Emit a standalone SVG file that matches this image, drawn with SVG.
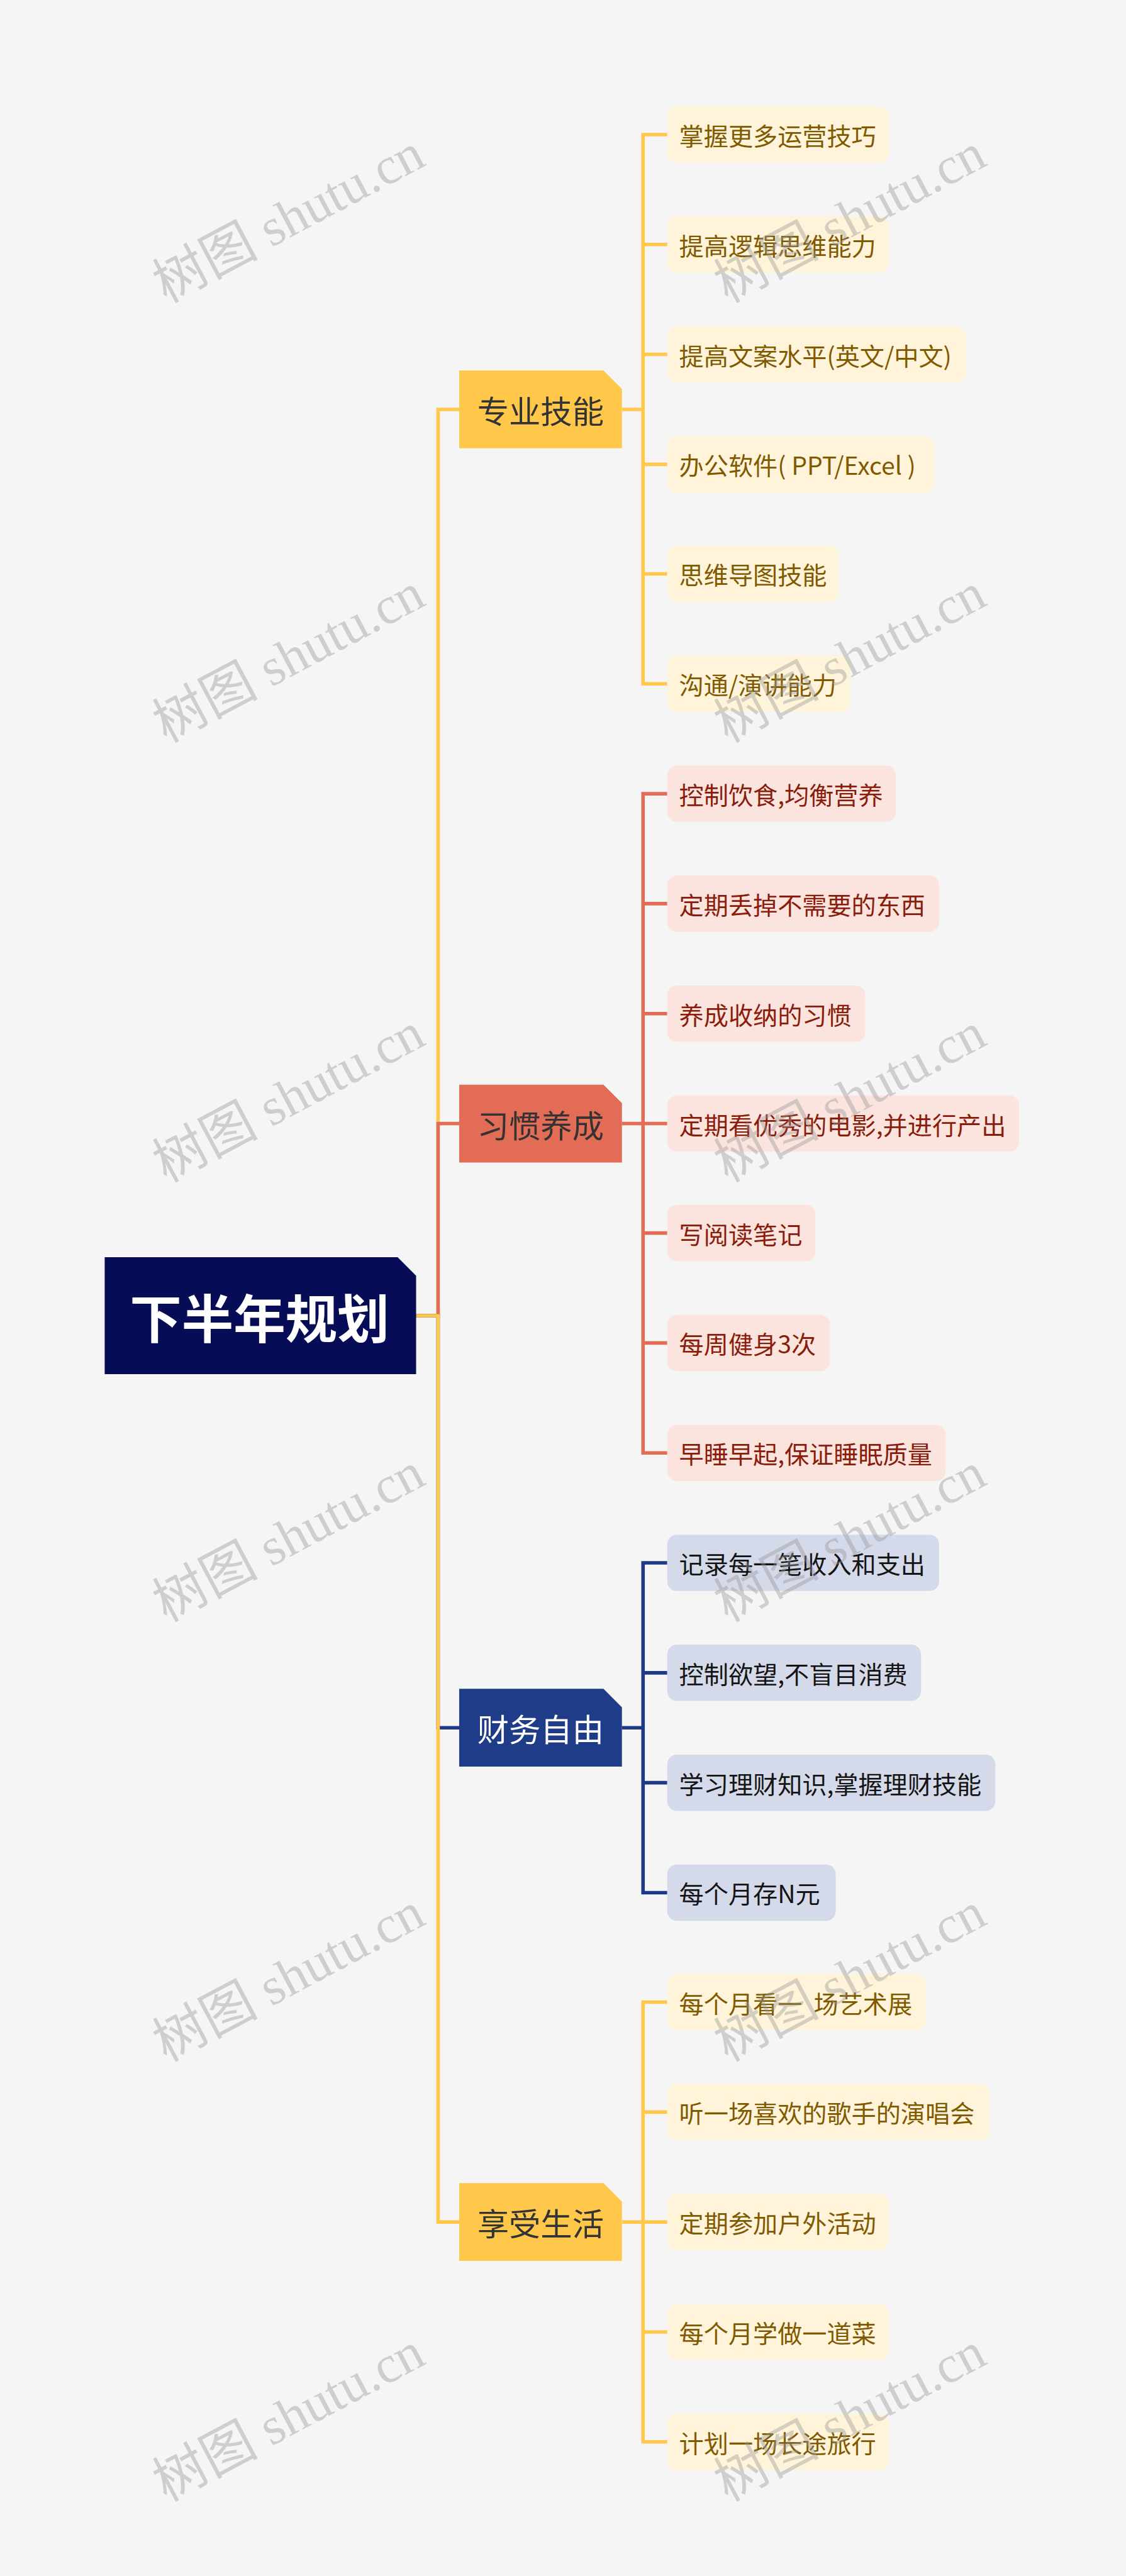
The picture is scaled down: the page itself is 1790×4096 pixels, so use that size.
<svg xmlns="http://www.w3.org/2000/svg" width="1790" height="4096" viewBox="0 0 1790 4096">
<style>
.ct{font-family:"Noto Sans CJK SC","Noto Sans",sans-serif;font-size:56px;dominant-baseline:central}
.tt{font-family:"Noto Sans CJK SC","Noto Sans",sans-serif;font-size:72px;dominant-baseline:central;text-anchor:middle}
.y .box{fill:#FFF4DA}.y text{fill:#805A00}
.r .box{fill:#FCE4DE}.r text{fill:#8A1C0C}
.b .box{fill:#D4DAEA}.b text{fill:#141414}
.ln{fill:none;stroke-width:8;stroke-linejoin:miter}
.wm{font-family:"Liberation Serif","Noto Sans CJK SC",serif;font-size:120px;fill:#969696;opacity:0.4}
</style>
<rect width="1790" height="4096" fill="#F5F5F5"/>
<g transform="scale(0.69922)">
<g id="connectors">
<path class="ln" stroke="#FFC84A" d="M946,2992H996V931H1044"/>
<path class="ln" stroke="#E26C55" d="M946,2992H996V2555H1044"/>
<path class="ln" stroke="#1E3A87" d="M946,2992H996V3929H1044"/>
<path class="ln" stroke="#FFC84A" d="M946,2992H996V5053H1044"/>
<path class="ln" stroke="#FFC84A" d="M1414,931H1462M1517,306H1462V1555H1517M1462,556H1517M1462,806H1517M1462,1056H1517M1462,1305H1517"/>
<path class="ln" stroke="#E26C55" d="M1414,2555H1462M1517,1805H1462V3304H1517M1462,2055H1517M1462,2305H1517M1462,2555H1517M1462,2804H1517M1462,3054H1517"/>
<path class="ln" stroke="#1E3A87" d="M1414,3929H1462M1517,3554H1462V4304H1517M1462,3804H1517M1462,4054H1517"/>
<path class="ln" stroke="#FFC84A" d="M1414,5053H1462M1517,4553H1462V5553H1517M1462,4803H1517M1462,5053H1517M1462,5303H1517"/>
</g>
<g id="root">
<path d="M238,2859H904L946,2901V3125H238Z" fill="#070C56"/>
<text x="590" y="2992" font-family="Noto Sans CJK SC, sans-serif" font-size="118" font-weight="bold" fill="#FFFFFF" text-anchor="middle" dominant-baseline="central">下半年规划</text>
</g>
<g id="topic-zhuanye"><path d="M1044,842.5H1372L1414,884.5V1019.5H1044Z" fill="#FFC84A"/><text class="tt" x="1229" y="931" fill="#333333">专业技能</text></g>
<g id="topic-xiguan"><path d="M1044,2466.5H1372L1414,2508.5V2643.5H1044Z" fill="#E26C55"/><text class="tt" x="1229" y="2555" fill="#333333">习惯养成</text></g>
<g id="topic-caiwu"><path d="M1044,3840.5H1372L1414,3882.5V4017.5H1044Z" fill="#1F3C88"/><text class="tt" x="1229" y="3929" fill="#FFFFFF">财务自由</text></g>
<g id="topic-xiangshou"><path d="M1044,4964.5H1372L1414,5006.5V5141.5H1044Z" fill="#FFC84A"/><text class="tt" x="1229" y="5053" fill="#333333">享受生活</text></g>

<g class="y">
<g id="c0"><rect class="box" x="1517" y="242" width="504" height="128" rx="22"/><text class="ct" x="1544" y="306">掌握更多运营技巧</text></g>
<g id="c1"><rect class="box" x="1517" y="492" width="504" height="128" rx="22"/><text class="ct" x="1544" y="556">提高逻辑思维能力</text></g>
<g id="c2"><rect class="box" x="1517" y="742" width="680" height="128" rx="22"/><text class="ct" x="1544" y="806">提高文案水平(英文/中文)</text></g>
<g id="c3"><rect class="box" x="1517" y="992" width="608" height="128" rx="22"/><text class="ct" x="1544" y="1056">办公软件( PPT/Excel )</text></g>
<g id="c4"><rect class="box" x="1517" y="1241" width="390" height="128" rx="22"/><text class="ct" x="1544" y="1305">思维导图技能</text></g>
<g id="c5"><rect class="box" x="1517" y="1491" width="415" height="128" rx="22"/><text class="ct" x="1544" y="1555">沟通/演讲能力</text></g>
</g>
<g class="r">
<g id="c6"><rect class="box" x="1517" y="1741" width="520" height="128" rx="22"/><text class="ct" x="1544" y="1805">控制饮食,均衡营养</text></g>
<g id="c7"><rect class="box" x="1517" y="1991" width="618" height="128" rx="22"/><text class="ct" x="1544" y="2055">定期丢掉不需要的东西</text></g>
<g id="c8"><rect class="box" x="1517" y="2241" width="450" height="128" rx="22"/><text class="ct" x="1544" y="2305">养成收纳的习惯</text></g>
<g id="c9"><rect class="box" x="1517" y="2491" width="800" height="128" rx="22"/><text class="ct" x="1544" y="2555">定期看优秀的电影,并进行产出</text></g>
<g id="c10"><rect class="box" x="1517" y="2740" width="337" height="128" rx="22"/><text class="ct" x="1544" y="2804">写阅读笔记</text></g>
<g id="c11"><rect class="box" x="1517" y="2990" width="370" height="128" rx="22"/><text class="ct" x="1544" y="3054">每周健身3次</text></g>
<g id="c12"><rect class="box" x="1517" y="3240" width="633" height="128" rx="22"/><text class="ct" x="1544" y="3304">早睡早起,保证睡眠质量</text></g>
</g>
<g class="b">
<g id="c13"><rect class="box" x="1517" y="3490" width="618" height="128" rx="22"/><text class="ct" x="1544" y="3554">记录每一笔收入和支出</text></g>
<g id="c14"><rect class="box" x="1517" y="3740" width="577" height="128" rx="22"/><text class="ct" x="1544" y="3804">控制欲望,不盲目消费</text></g>
<g id="c15"><rect class="box" x="1517" y="3990" width="746" height="128" rx="22"/><text class="ct" x="1544" y="4054">学习理财知识,掌握理财技能</text></g>
<g id="c16"><rect class="box" x="1517" y="4240" width="383" height="128" rx="22"/><text class="ct" x="1544" y="4304">每个月存N元</text></g>
</g>
<g class="y">
<g id="c17"><rect class="box" x="1517" y="4489" width="588" height="128" rx="22"/><text class="ct" x="1544" y="4553">每个月看一<tspan dx="26">场艺术展</tspan></text></g>
<g id="c18"><rect class="box" x="1517" y="4739" width="733" height="128" rx="22"/><text class="ct" x="1544" y="4803">听一场喜欢的歌手的演唱会</text></g>
<g id="c19"><rect class="box" x="1517" y="4989" width="504" height="128" rx="22"/><text class="ct" x="1544" y="5053">定期参加户外活动</text></g>
<g id="c20"><rect class="box" x="1517" y="5239" width="504" height="128" rx="22"/><text class="ct" x="1544" y="5303">每个月学做一道菜</text></g>
<g id="c21"><rect class="box" x="1517" y="5489" width="504" height="128" rx="22"/><text class="ct" x="1544" y="5553">计划一场长途旅行</text></g>
</g>

<g id="watermarks">
<text class="wm" transform="translate(378,690) rotate(-28)">树图 shutu.cn</text>
<text class="wm" transform="translate(1654,690) rotate(-28)">树图 shutu.cn</text>
<text class="wm" transform="translate(378,1690) rotate(-28)">树图 shutu.cn</text>
<text class="wm" transform="translate(1654,1690) rotate(-28)">树图 shutu.cn</text>
<text class="wm" transform="translate(378,2690) rotate(-28)">树图 shutu.cn</text>
<text class="wm" transform="translate(1654,2690) rotate(-28)">树图 shutu.cn</text>
<text class="wm" transform="translate(378,3690) rotate(-28)">树图 shutu.cn</text>
<text class="wm" transform="translate(1654,3690) rotate(-28)">树图 shutu.cn</text>
<text class="wm" transform="translate(378,4690) rotate(-28)">树图 shutu.cn</text>
<text class="wm" transform="translate(1654,4690) rotate(-28)">树图 shutu.cn</text>
<text class="wm" transform="translate(378,5690) rotate(-28)">树图 shutu.cn</text>
<text class="wm" transform="translate(1654,5690) rotate(-28)">树图 shutu.cn</text>
</g>
</g>
</svg>
